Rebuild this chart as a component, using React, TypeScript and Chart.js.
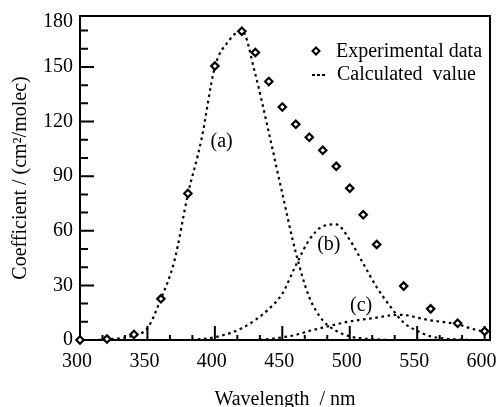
import React, { useEffect, useRef } from 'react';
import { Chart, registerables } from 'chart.js';

Chart.register(...registerables);

// ---- data ----
const wavelengths = [300, 310, 320, 330, 340, 350, 360, 370, 380, 390, 400, 410, 420, 430, 440, 450, 460, 470, 480, 490, 500, 510, 520, 530, 540, 550, 560, 570, 580, 590, 600];
const calcA = [0, 0, 0.3, 1, 2.5, 6.5, 22.6, 43.5, 80, 110, 150, 164, 170, 146, 114, 80.5, 48, 23.5, 10.8, 5, 2, 0.8, 0.3, 0, 0, 0, 0, 0, 0, 0, 0];
const calcB = [0, 0, 0, 0, 0, 0, 0, 0, 0, 0.5, 1.5, 3.5, 6.5, 11, 17, 25.5, 41, 55, 62.5, 63.5, 55, 42, 29, 18.5, 9.5, 5, 2, 0.8, 0.3, 0, 0];
const calcC = [0, 0, 0, 0, 0, 0, 0, 0, 0, 0, 0, 0, 0, 0, 0.5, 1.5, 2.8, 5, 6.8, 8.6, 10.2, 11.3, 12.3, 13.5, 13.8, 12.3, 10.8, 9.8, 8.7, 6.3, 4.5];

const expX = [300, 320, 340, 360, 380, 400, 420, 430, 440, 450, 460, 470, 480, 490, 500, 510, 520, 540, 560, 580, 600];
const expY = [0, 0.5, 3, 22.6, 80.5, 150.5, 169.6, 158, 142, 128, 118.5, 111.4, 104.2, 95.4, 83.4, 68.8, 52.5, 29.6, 17.1, 9.2, 4.8];

const xTicks = [300, 350, 400, 450, 500, 550, 600];
const yTicks = [0, 30, 60, 90, 120, 150, 180];
const xMin = 300;
const xMax = 604;
const yMin = 0;
const yMax = 178;

const curveLabels = ['(a)', '(b)', '(c)'];
const curveLabelX = [405, 484.5, 508.4];
const curveLabelY = [109, 52.2, 18.8];

const legendLabels = ['Experimental data', 'Calculated  value'];
const xTitle = 'Wavelength  / nm';
const yTitle = 'Coefficient / (cm\u00B2/molec)';

const FONT = "'Liberation Serif', 'Times New Roman', Times, serif";

function minorValues(majors: number[], parts: number, max: number) {
  const out: number[] = [];
  for (let i = 0; i < majors.length - 1; i++) {
    const a = majors[i];
    const b = majors[i + 1];
    for (let k = 1; k < parts; k++) {
      const v = a + ((b - a) * k) / parts;
      if (v <= max) out.push(v);
    }
  }
  return out;
}

const framePlugin = {
  id: 'frameTicks',
  beforeDatasetsDraw(chart: any) {
    const { ctx, chartArea, scales } = chart;
    const { left, right, top, bottom } = chartArea;
    ctx.save();
    ctx.strokeStyle = '#000';
    ctx.lineWidth = 2;
    ctx.lineCap = 'square';
    ctx.beginPath();
    ctx.moveTo(left, top);
    ctx.lineTo(right, top);
    ctx.lineTo(right, bottom);
    ctx.lineTo(left, bottom);
    ctx.closePath();
    ctx.stroke();
    ctx.lineCap = 'butt';
    // y ticks
    const ys = scales.y;
    ctx.beginPath();
    yTicks.forEach((v) => {
      if (v > yMax) return;
      const p = ys.getPixelForValue(v);
      ctx.moveTo(left, p);
      ctx.lineTo(left + 14, p);
    });
    minorValues(yTicks, 3, yMax).forEach((v) => {
      const p = ys.getPixelForValue(v);
      ctx.moveTo(left, p);
      ctx.lineTo(left + 8, p);
    });
    // x ticks
    const xs = scales.x;
    xTicks.forEach((v) => {
      const p = xs.getPixelForValue(v);
      ctx.moveTo(p, bottom);
      ctx.lineTo(p, bottom - 14);
    });
    minorValues(xTicks, 3, xMax).forEach((v) => {
      const p = xs.getPixelForValue(v);
      ctx.moveTo(p, bottom);
      ctx.lineTo(p, bottom - 5);
    });
    ctx.stroke();
    ctx.restore();
  },
  afterDraw(chart: any) {
    const { ctx, scales } = chart;
    ctx.save();
    ctx.fillStyle = '#000';
    ctx.font = `20px ${FONT}`;
    ctx.textAlign = 'center';
    ctx.textBaseline = 'middle';
    curveLabels.forEach((t, i) => {
      ctx.fillText(t, scales.x.getPixelForValue(curveLabelX[i]), scales.y.getPixelForValue(curveLabelY[i]));
    });
    // legend
    ctx.textAlign = 'left';
    ctx.fillText(legendLabels[0], 336, 52);
    ctx.fillText(legendLabels[1], 337, 75);
    // diamond
    ctx.strokeStyle = '#000';
    ctx.lineWidth = 2;
    ctx.fillStyle = '#fff';
    const dx = 316, dy = 51, r = 3.5;
    ctx.beginPath();
    ctx.moveTo(dx, dy - r);
    ctx.lineTo(dx + r, dy);
    ctx.lineTo(dx, dy + r);
    ctx.lineTo(dx - r, dy);
    ctx.closePath();
    ctx.fill();
    ctx.stroke();
    // dashed sample
    ctx.setLineDash([3, 2]);
    ctx.beginPath();
    ctx.moveTo(312, 75);
    ctx.lineTo(325, 75);
    ctx.stroke();
    ctx.restore();
  },
};

export default function App() {
  const ref = useRef<HTMLCanvasElement | null>(null);

  useEffect(() => {
    if (!ref.current) return;
    const curveStyle = {
      borderColor: '#000',
      borderWidth: 2.2,
      borderDash: [2.6, 3.6],
      pointRadius: 0,
      fill: false,
      cubicInterpolationMode: 'monotone' as const,
    };
    const chart = new Chart(ref.current, {
      type: 'line',
      data: {
        datasets: [
          {
            label: legendLabels[0],
            data: expX.map((x, i) => ({ x, y: expY[i] })),
            showLine: false,
            pointStyle: 'rectRot',
            pointRadius: 3.7,
            pointBorderWidth: 2.2,
            borderColor: '#000',
            backgroundColor: '#fff',
            clip: false as any,
          },
          { label: 'a', data: wavelengths.map((x, i) => ({ x, y: calcA[i] })), ...curveStyle },
          { label: 'b', data: wavelengths.map((x, i) => ({ x, y: calcB[i] })), ...curveStyle },
          { label: 'c', data: wavelengths.map((x, i) => ({ x, y: calcC[i] })), ...curveStyle },
        ],
      },
      options: {
        animation: false,
        responsive: false,
        events: [],
        layout: { padding: { top: 16, right: 8, left: 0, bottom: 0 } },
        plugins: { legend: { display: false }, tooltip: { enabled: false } },
        scales: {
          x: {
            type: 'linear',
            min: xMin,
            max: xMax,
            afterBuildTicks: (s: any) => {
              s.ticks = xTicks.map((v) => ({ value: v }));
            },
            afterFit: (s: any) => {
              s.height = 67;
              s.paddingLeft = 0;
              s.paddingRight = 0;
            },
            grid: { display: false, drawTicks: false },
            border: { display: false },
            ticks: {
              color: '#000',
              font: { family: FONT, size: 20, lineHeight: 1 },
              padding: 12,
              labelOffset: -3,
              maxRotation: 0,
              autoSkip: false,
              callback: (v: any) => String(v),
            },
            title: {
              display: true,
              text: xTitle,
              color: '#000',
              font: { family: FONT, size: 20, lineHeight: 1 },
              padding: { top: 0, bottom: -3 },
            },
          },
          y: {
            type: 'linear',
            min: yMin,
            max: yMax,
            afterBuildTicks: (s: any) => {
              s.ticks = yTicks.map((v) => ({ value: Math.min(v, yMax - 3) }));
            },
            afterFit: (s: any) => {
              s.width = 80;
              s.paddingTop = 0;
              s.paddingBottom = 0;
            },
            grid: { display: false, drawTicks: false },
            border: { display: false },
            ticks: {
              color: '#000',
              font: { family: FONT, size: 20, lineHeight: 1 },
              padding: 7,
              autoSkip: false,
              callback: (_v: any, i: number) => String(yTicks[i]),
            },
            title: {
              display: true,
              text: yTitle,
              color: '#000',
              font: { family: FONT, size: 20, lineHeight: 1 },
              padding: { top: 11, bottom: 0 },
            },
          },
        },
      },
      plugins: [framePlugin],
    } as any);
    return () => chart.destroy();
  }, []);

  return (
    <div style={{ position: 'fixed', left: 0, top: 0, width: 498, height: 407, background: '#fff' }}>
      <canvas ref={ref} width={498} height={407} />
    </div>
  );
}
